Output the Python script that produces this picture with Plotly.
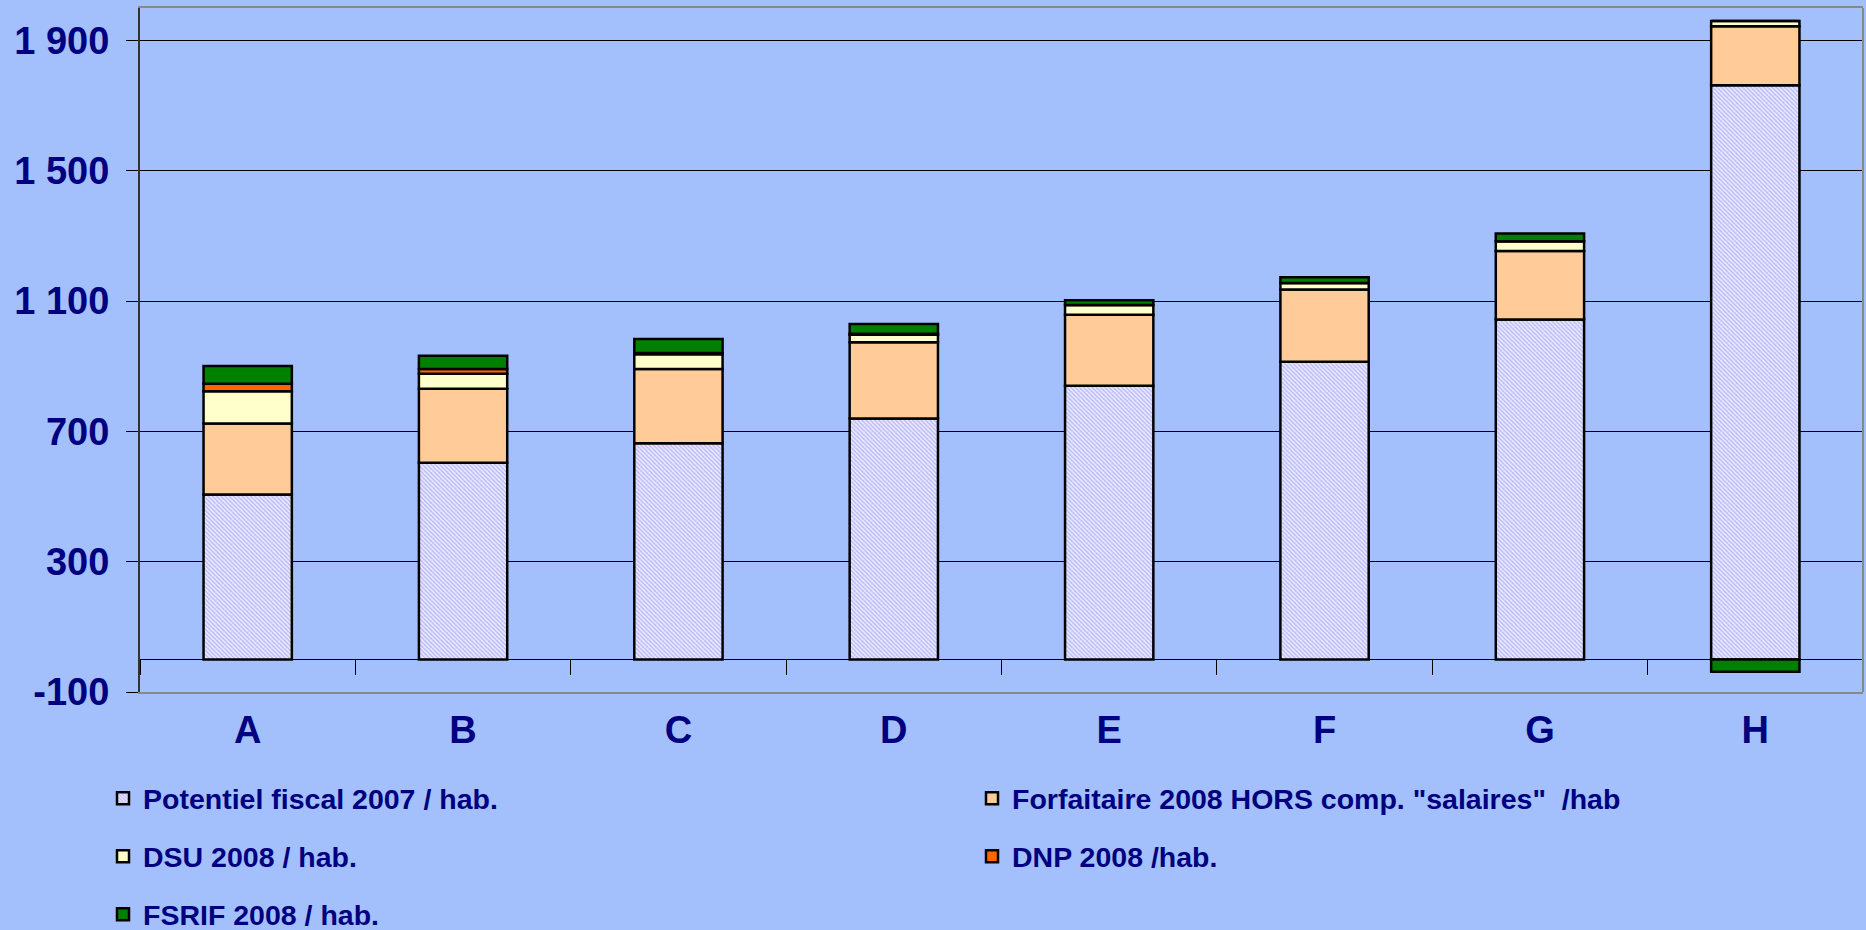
import plotly.graph_objects as go

categories = ["A", "B", "C", "D", "E", "F", "G", "H"]
potentiel = [506, 604, 664, 740, 840, 914, 1044, 1763]
forfaitaire = [218, 227, 228, 234, 218, 222, 210, 181]
dsu = [99, 46, 45, 23, 30, 20, 30, 16]
dnp = [23, 15, 4, 3, 0, 0, 0, 0]
fsrif = [55, 40, 43, 30, 15, 17, 24, -38]

series_names = [
    "Potentiel fiscal 2007 / hab.",
    'Forfaitaire 2008 HORS comp. "salaires"  /hab',
    "DSU 2008 / hab.",
    "DNP 2008 /hab.",
    "FSRIF 2008 / hab.",
]
ytick_vals = [-100, 300, 700, 1100, 1500, 1900]
ytick_text = ["-100", "300", "700", "1 100", "1 500", "1 900"]
y_range = [-100, 2000]

BG = "#A3C0FD"
NAVY = "#000080"
FONT = "Liberation Sans, Arial, sans-serif"

fig = go.Figure()
line = dict(color="black", width=2.5)
bw = 0.41

fig.add_trace(go.Bar(x=categories, y=potentiel, name=series_names[0], width=bw,
                     marker=dict(color="#E6E6FC", line=line,
                                 pattern=dict(shape="\\", fgcolor="#8C8CF5", bgcolor="#EEEEFD",
                                              size=3, solidity=0.55)),
                     legend="legend", legendgroup="g1"))
fig.add_trace(go.Bar(x=categories, y=forfaitaire, name=series_names[1], width=bw,
                     marker=dict(color="#FFCC99", line=line), legend="legend2", legendgroup="g2"))
fig.add_trace(go.Bar(x=categories, y=dsu, name=series_names[2], width=bw,
                     marker=dict(color="#FFFFCC", line=line), legend="legend", legendgroup="g3"))
fig.add_trace(go.Bar(x=categories, y=dnp, name=series_names[3], width=bw,
                     marker=dict(color="#FF6600", line=line), legend="legend2", legendgroup="g4"))
fig.add_trace(go.Bar(x=categories, y=fsrif, name=series_names[4], width=bw,
                     marker=dict(color="#008000", line=line), legend="legend", legendgroup="g5"))

n = len(categories)
zero_pos = (0 - y_range[0]) / (y_range[1] - y_range[0])

legend_font = dict(family=FONT, size=28.5, color=NAVY, weight="bold")
common_legend = dict(xref="container", yref="container", y=0.1686,
                     xanchor="left", yanchor="top", bgcolor="rgba(0,0,0,0)",
                     font=legend_font, traceorder="grouped", tracegroupgap=18,
                     itemclick=False, borderwidth=0)
fig.update_layout(
    width=1866, height=930,
    margin=dict(l=140, r=3, t=8, b=238, autoexpand=False),
    paper_bgcolor=BG, plot_bgcolor=BG,
    barmode="relative",
    font=dict(family=FONT, color=NAVY, weight="bold"),
    legend=dict(common_legend, x=0.0552),
    legend2=dict(common_legend, x=0.5209),
    xaxis=dict(type="category", range=[-0.5, n - 0.5], showline=True, mirror=True,
               linecolor="#888888", linewidth=2, ticks="",
               tickfont=dict(family=FONT, size=38, color=NAVY, weight="bold"),
               ticklabelstandoff=3, showgrid=False),
    xaxis2=dict(overlaying="x", anchor="free", position=zero_pos,
                range=[-0.5, n - 0.5], showline=True, linecolor="black", linewidth=1,
                ticks="outside", ticklen=15, tickcolor="black", tickwidth=1,
                tickvals=[i - 0.5 for i in range(n + 1)], showticklabels=False,
                showgrid=False, zeroline=False),
    yaxis=dict(range=y_range, tickvals=ytick_vals, ticktext=ytick_text,
               showline=True, linecolor="#333333", linewidth=2,
               ticks="outside", ticklen=12, tickcolor="black",
               showgrid=True, gridcolor="black", gridwidth=1, zeroline=False,
               tickfont=dict(family=FONT, size=38, color=NAVY, weight="bold"),
               ticklabelstandoff=9),
    shapes=[dict(type="line", xref="x domain", yref="y domain", x0=1, x1=1, y0=0, y1=1,
                 line=dict(color="#888888", width=2))],
    showlegend=True,
)
# invisible helper trace to activate xaxis2 (zero line with category separators)
fig.add_trace(go.Scatter(x=[0], y=[0], xaxis="x2", mode="markers",
                         marker=dict(opacity=0), showlegend=False, hoverinfo="skip"))

fig.write_html("out.html", config={"displayModeBar": False},
               post_script="document.body.style.margin='0';")
